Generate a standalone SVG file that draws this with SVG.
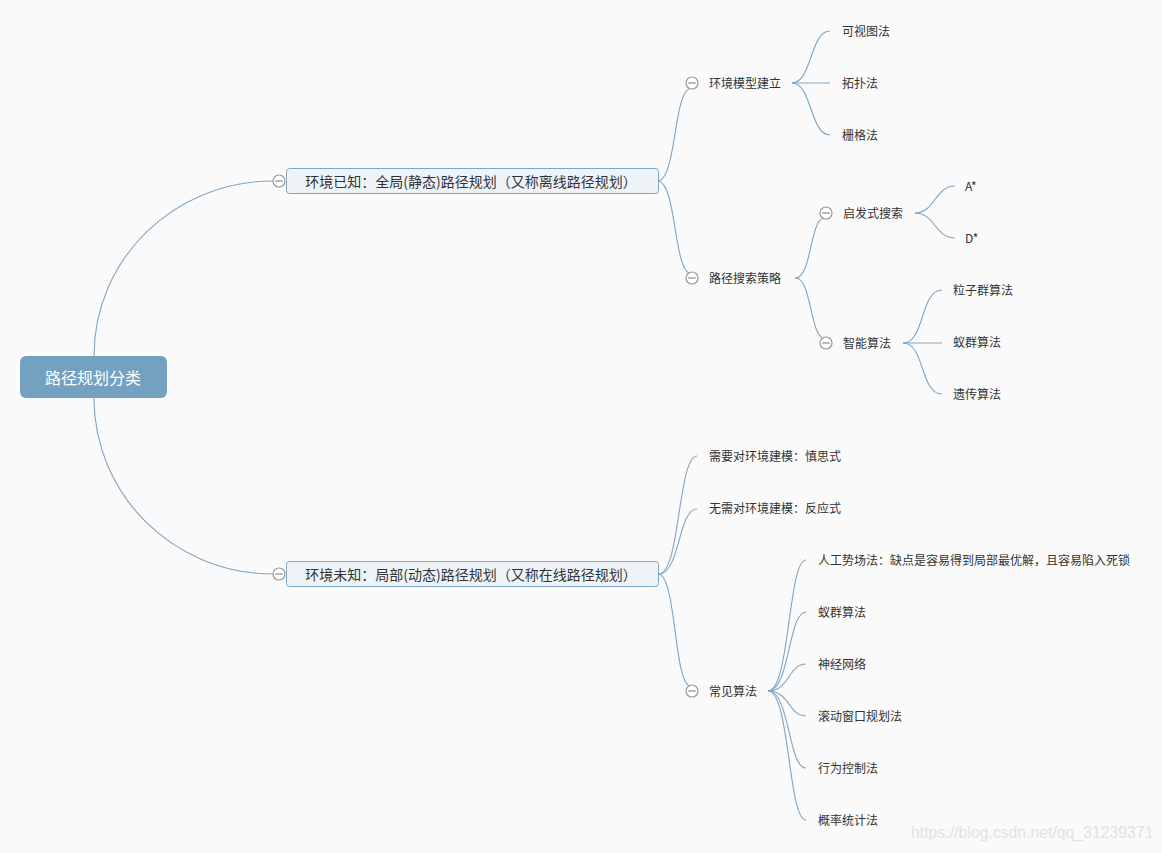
<svg xmlns="http://www.w3.org/2000/svg" width="1162" height="853" viewBox="0 0 1162 853">
<style>
.bg{fill:#fafafa}
.c{fill:none;stroke:#7ea6c6;stroke-width:1.1}
.t{font-family:"Noto Sans CJK SC","Noto Sans",sans-serif;font-size:12px;fill:#333;dominant-baseline:central;transform:translateY(-1px)}
.t1{font-family:"Noto Sans CJK SC","Noto Sans",sans-serif;font-size:14px;fill:#333;dominant-baseline:central;text-anchor:middle}
.box{fill:#eef3f7;stroke:#7fa6c4;stroke-width:1}
.tog circle{fill:#fff;stroke:#9a9a9a;stroke-width:1.2}
.tog line{stroke:#8a8a8a;stroke-width:1.2}
</style>
<defs>
<g id="toggle" class="tog"><circle cx="0" cy="0" r="6"/><line x1="-3.8" y1="0" x2="3.8" y2="0"/></g>
</defs>
<rect class="bg" x="0" y="0" width="1162" height="853"/>
<g id="connectors">
<path class="c" d="M94,356 C94,259 174,181 273,181"/>
<path class="c" d="M94,398 C94,495 174,574 273,574"/>
<path class="c" d="M659,181 C676,176 674,95 689,89"/>
<path class="c" d="M659,181 C676,186 674,266 689,273"/>
<path class="c" d="M792,83 C812,83 810,31 830,31"/>
<path class="c" d="M792,83 L830,83"/>
<path class="c" d="M792,83 C812,83 810,135 830,135"/>
<path class="c" d="M795,278 C811,280 810,222 823,218"/>
<path class="c" d="M795,278 C811,276 810,334 823,338"/>
<path class="c" d="M915,213 C935,213 935,186 955,186"/>
<path class="c" d="M915,213 C935,213 935,238 955,238"/>
<path class="c" d="M903,343 C925,343 920,290 942,290"/>
<path class="c" d="M903,343 L942,343"/>
<path class="c" d="M903,343 C925,343 920,394 942,394"/>
<path class="c" d="M659,574 C680,574 678,456 697,456"/>
<path class="c" d="M659,574 C680,574 678,509 697,509"/>
<path class="c" d="M659,574 C676,578 674,678 689,686"/>
<path class="c" d="M768,691 C790,691 788,560 806,560"/>
<path class="c" d="M768,691 C790,691 788,612 806,612"/>
<path class="c" d="M768,691 C790,691 788,664 806,664"/>
<path class="c" d="M768,691 C790,691 788,716 806,716"/>
<path class="c" d="M768,691 C790,691 788,768 806,768"/>
<path class="c" d="M768,691 C790,691 788,820 806,820"/>
</g>
<g id="root">
<rect x="20" y="356" width="147" height="42" rx="6" fill="#73a1bf"/>
<text x="93" y="376.5" font-family="'Noto Sans CJK SC',sans-serif" font-size="16" fill="#fff" text-anchor="middle" dominant-baseline="central">路径规划分类</text>
</g>
<g id="n-known">
<use href="#toggle" x="279" y="181"/>
<rect class="box" x="286.5" y="168.5" width="372" height="25" rx="3"/>
<text class="t1" x="471" y="180.5">环境已知：全局(静态)路径规划（又称离线路径规划）</text>
</g>
<g id="n-unknown">
<use href="#toggle" x="279" y="574"/>
<rect class="box" x="286.5" y="561.5" width="372" height="25" rx="3"/>
<text class="t1" x="471" y="573.5">环境未知：局部(动态)路径规划（又称在线路径规划）</text>
</g>
<g id="n-env"><use href="#toggle" x="692" y="83"/><text class="t" x="709" y="83">环境模型建立</text></g>
<g id="n-vis"><text class="t" x="842" y="31">可视图法</text></g>
<g id="n-topo"><text class="t" x="842" y="83">拓扑法</text></g>
<g id="n-grid"><text class="t" x="842" y="135">栅格法</text></g>
<g id="n-search"><use href="#toggle" x="692" y="278"/><text class="t" x="709" y="278">路径搜索策略</text></g>
<g id="n-heur"><use href="#toggle" x="826" y="213"/><text class="t" x="843" y="213">启发式搜索</text></g>
<g id="n-astar"><text class="t" x="965" y="186">A*</text></g>
<g id="n-dstar"><text class="t" x="965" y="238">D*</text></g>
<g id="n-intel"><use href="#toggle" x="826" y="343"/><text class="t" x="843" y="343">智能算法</text></g>
<g id="n-pso"><text class="t" x="953" y="290">粒子群算法</text></g>
<g id="n-aco1"><text class="t" x="953" y="342">蚁群算法</text></g>
<g id="n-ga"><text class="t" x="953" y="394">遗传算法</text></g>
<g id="n-delib"><text class="t" x="709" y="456">需要对环境建模：慎思式</text></g>
<g id="n-react"><text class="t" x="709" y="508">无需对环境建模：反应式</text></g>
<g id="n-common"><use href="#toggle" x="692" y="691"/><text class="t" x="709" y="691">常见算法</text></g>
<g id="n-apf"><text class="t" x="818" y="560">人工势场法：缺点是容易得到局部最优解，且容易陷入死锁</text></g>
<g id="n-aco2"><text class="t" x="818" y="612">蚁群算法</text></g>
<g id="n-nn"><text class="t" x="818" y="664">神经网络</text></g>
<g id="n-rw"><text class="t" x="818" y="716">滚动窗口规划法</text></g>
<g id="n-bc"><text class="t" x="818" y="768">行为控制法</text></g>
<g id="n-prob"><text class="t" x="818" y="820">概率统计法</text></g>
<text x="911" y="838" font-family="'Liberation Sans',Arial,sans-serif" font-size="15.8" fill="#e2e2e2">https://blog.csdn.net/qq_31239371</text>
</svg>
